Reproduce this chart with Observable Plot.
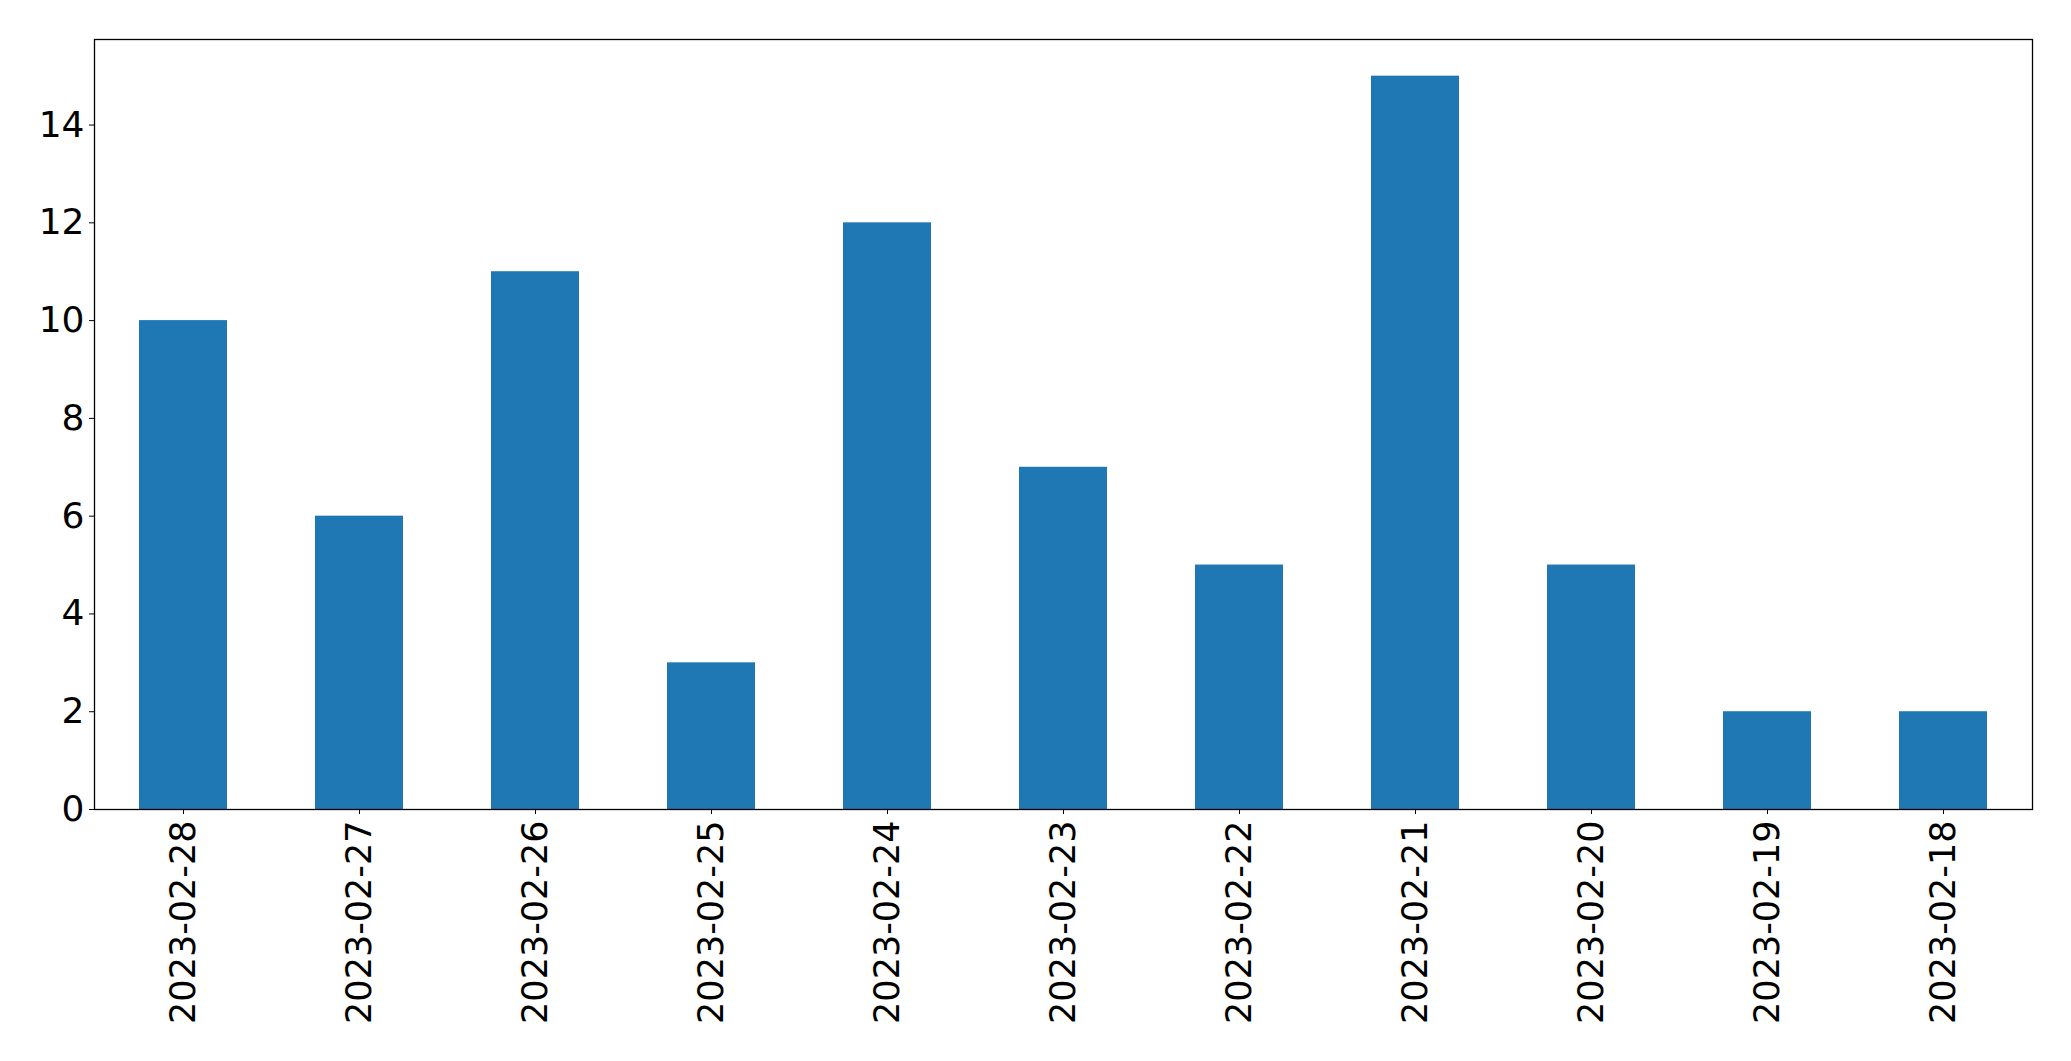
<!DOCTYPE html>
<html>
<head>
<meta charset="utf-8">
<script src="https://cdn.jsdelivr.net/npm/d3@7"></script>
<script src="https://cdn.jsdelivr.net/npm/@observablehq/plot@0.6"></script>
<style>
  html, body { margin: 0; padding: 0; background: #fff; }
</style>
</head>
<body>
<div id="chart"></div>
<script>
const dates = ["2023-02-28","2023-02-27","2023-02-26","2023-02-25","2023-02-24","2023-02-23","2023-02-22","2023-02-21","2023-02-20","2023-02-19","2023-02-18"];
const counts = [10, 6, 11, 3, 12, 7, 5, 15, 5, 2, 2];
const yTicks = [0, 2, 4, 6, 8, 10, 12, 14];

const data = dates.map((d, i) => ({date: d, count: counts[i]}));

const chart = Plot.plot({
  width: 2071,
  height: 1061,
  marginLeft: 94,
  marginTop: 39,
  marginRight: 39,
  marginBottom: 252,
  style: {fontFamily: "DejaVu Sans", fontSize: "35px", color: "#000", background: "#fff"},
  x: {type: "band", domain: dates, paddingInner: 0.5, paddingOuter: 0.25, label: null},
  y: {domain: [0, 15.75], label: null},
  marks: [
    Plot.barY(data, {x: "date", y: "count", fill: "#1f77b4"}),
    Plot.axisY({ticks: yTicks, tickSize: 5, tickPadding: 5, label: null, fontSize: 36}),
    Plot.axisX({tickSize: 5, tickPadding: 6, tickRotate: -90, label: null, fontSize: 35}),
    Plot.frame({stroke: "#000", strokeWidth: 1.3})
  ]
});
document.getElementById("chart").appendChild(chart);
</script>
</body>
</html>
